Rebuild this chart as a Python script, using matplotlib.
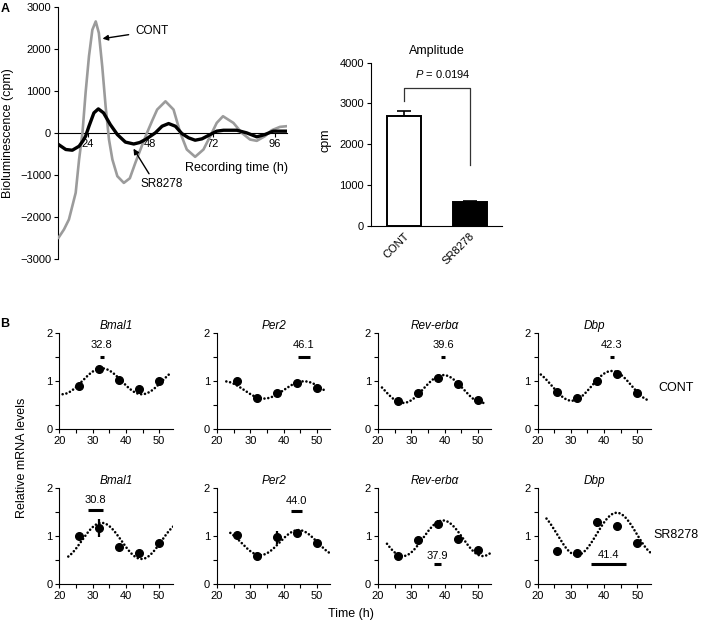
import matplotlib
matplotlib.use('Agg')
import matplotlib.pyplot as plt
import numpy as np
from matplotlib.ticker import MultipleLocator

plt.rcParams['font.family'] = ['Liberation Sans', 'DejaVu Sans']
plt.rcParams['mathtext.fontset'] = 'custom'
plt.rcParams['mathtext.rm'] = 'Liberation Sans'
plt.rcParams['mathtext.it'] = 'Liberation Sans:italic'

# ---------------- Panel A: bioluminescence traces ----------------
cont_time = [12.8, 14.9, 16.8, 18.1, 19.4, 20.7, 22.0, 23.2, 24.5, 25.8, 27.1, 28.3,
             29.6, 30.9, 32.2, 33.5, 35.4, 37.9, 40.2, 42.4, 45.0, 46.8, 48.8, 50.7,
             53.9, 57.0, 59.6, 62.1, 65.3, 68.5, 71.1, 73.6, 76.0, 80.0, 83.2, 86.4,
             89.0, 92.1, 94.7, 97.9, 100.5]
cont_lum = [-2494, -2297, -2060, -1743, -1425, -634, 0, 950, 1820, 2450, 2650, 2375,
            1580, 630, -160, -634, -1030, -1190, -1080, -700, -280, 0, 290, 553,
            750, 553, 0, -396, -570, -396, -80, 237, 395, 237, 0, -159,
            -190, -80, 62, 142, 158]

sr_time = [12.8, 15.6, 18.1, 20.7, 22.2, 23.2, 24.5, 26.4, 28.1, 30.1, 32.7, 35.4,
           38.5, 41.7, 44.0, 46.2, 50.0, 52.6, 55.1, 57.7, 60.2, 62.8, 65.3, 67.9,
           71.1, 73.6, 76.2, 81.3, 85.1, 89.0, 92.1, 95.3, 100.5]
sr_lum = [-278, -396, -413, -318, -190, -80, 158, 475, 570, 475, 197, -40,
          -220, -265, -230, -159, 0, 158, 221, 158, -17, -119, -175, -143,
          -40, 40, 62, 62, 0, -95, -40, 40, 40]

# ---------------- Panel A: amplitude bars ----------------
amp_groups = ['CONT', 'SR8278']
amp_values = [2680, 590]
amp_errors = [140, 20]
p_text = 'P = 0.0194'

# ---------------- Panel B: qPCR ----------------
genes = ['Bmal1', 'Per2', 'Rev-erbα', 'Dbp']
sample_times = [26, 32, 38, 44, 50]
cont_levels = {
    'Bmal1':    [0.90, 1.25, 1.03, 0.84, 1.01],
    'Per2':     [1.00, 0.66, 0.76, 0.97, 0.87],
    'Rev-erbα': [0.59, 0.75, 1.07, 0.94, 0.61],
    'Dbp':      [0.77, 0.65, 1.00, 1.15, 0.76],
}
cont_err = {
    'Bmal1':    [0.03, 0.03, 0.03, 0.03, 0.03],
    'Per2':     [0.03, 0.02, 0.03, 0.03, 0.03],
    'Rev-erbα': [0.02, 0.03, 0.03, 0.03, 0.02],
    'Dbp':      [0.03, 0.02, 0.03, 0.05, 0.03],
}
sr_levels = {
    'Bmal1':    [1.00, 1.17, 0.76, 0.64, 0.85],
    'Per2':     [1.02, 0.58, 0.97, 1.06, 0.85],
    'Rev-erbα': [0.58, 0.92, 1.25, 0.93, 0.71],
    'Dbp':      [0.69, 0.64, 1.28, 1.20, 0.86],
}
sr_err = {
    'Bmal1':    [0.03, 0.19, 0.03, 0.04, 0.03],
    'Per2':     [0.03, 0.02, 0.13, 0.03, 0.02],
    'Rev-erbα': [0.02, 0.03, 0.08, 0.03, 0.03],
    'Dbp':      [0.02, 0.02, 0.10, 0.05, 0.02],
}
# cosinor fits: mesor, amplitude, fitted peak time, period, fit start, fit end
cont_fit = {
    'Bmal1':    [1.00, 0.27, 32.8, 24, 21.0, 53.4],
    'Per2':     [0.82, 0.18, 46.1, 24, 22.8, 52.5],
    'Rev-erbα': [0.84, 0.29, 39.6, 24, 21.2, 52.0],
    'Dbp':      [0.905, 0.31, 42.3, 24, 21.0, 52.8],
}
sr_fit = {
    'Bmal1':    [0.895, 0.375, 32.7, 24, 22.7, 54.2],
    'Per2':     [0.86, 0.26, 44.5, 23, 24.0, 55.0],
    'Rev-erbα': [0.95, 0.37, 39.5, 24, 22.7, 54.0],
    'Dbp':      [1.04, 0.44, 43.8, 24, 22.7, 54.7],
}
# phase labels and their error
cont_phase = {'Bmal1': 32.8, 'Per2': 46.1, 'Rev-erbα': 39.6, 'Dbp': 42.3}
cont_phase_err = {'Bmal1': 0.6, 'Per2': 1.75, 'Rev-erbα': 0.6, 'Dbp': 0.6}
sr_phase = {'Bmal1': 30.8, 'Per2': 44.0, 'Rev-erbα': 37.9, 'Dbp': 41.4}
sr_phase_err = {'Bmal1': 2.3, 'Per2': 1.65, 'Rev-erbα': 1.15, 'Dbp': 5.2}

W, H = 709, 624
fig = plt.figure(figsize=(W / 100, H / 100), dpi=100)


def box(l, t, r, b):
    return [l / W, 1 - b / H, (r - l) / W, (b - t) / H]


LW = 0.8

# ---------------- Panel A left ----------------
ax1 = fig.add_axes(box(58, 6.7, 287, 259))
ax1.plot(cont_time, cont_lum, color='#9b9b9b', lw=1.9, solid_joinstyle='round', zorder=3)
ax1.plot(sr_time, sr_lum, color='black', lw=2.4, solid_joinstyle='round', zorder=4)
ax1.set_xlim(12.6, 100.6)
ax1.set_ylim(-3000, 3000)
for s in ['top', 'right']:
    ax1.spines[s].set_visible(False)
ax1.spines['bottom'].set_position(('data', 0))
ax1.spines['bottom'].set_linewidth(LW)
ax1.spines['left'].set_linewidth(LW)
ax1.set_xticks([24, 48, 72, 96])
ax1.set_yticks(range(-3000, 3001, 1000))
ax1.tick_params(axis='x', direction='out', length=3, width=LW, pad=1.5, labelsize=8)
ax1.tick_params(axis='y', direction='out', length=3, width=LW, pad=2, labelsize=8)
fig.text(8.5 / W, 1 - 133 / H, 'Bioluminescence (cpm)', rotation=90, ha='center',
         va='center', fontsize=9)
ax1.text(100.9, -830, 'Recording time (h)', ha='right', va='center', fontsize=9)
ax1.annotate('CONT', xy=(29.7, 2240), xytext=(42.4, 2420), ha='left', va='center',
             fontsize=8.5,
             arrowprops=dict(arrowstyle='-|>', color='black', lw=1, shrinkA=3, shrinkB=0,
                             mutation_scale=8))
ax1.annotate('SR8278', xy=(41.6, -375), xytext=(52.6, -1210), ha='center', va='center',
             fontsize=8.5,
             arrowprops=dict(arrowstyle='-|>', color='black', lw=1, shrinkA=1, shrinkB=0,
                             mutation_scale=8, relpos=(0.25, 1.0)))

# ---------------- Panel A right ----------------
ax2 = fig.add_axes(box(371, 62.7, 502, 225.7))
xpos = np.arange(len(amp_groups))
ax2.bar(xpos, amp_values, width=0.52, color=['white', 'black'], edgecolor='black',
        linewidth=1.4, zorder=3)
ax2.errorbar(xpos, amp_values, yerr=[[0, 0], amp_errors], fmt='none', ecolor='black',
             elinewidth=1.2, capsize=5, capthick=1.2, zorder=2)
ax2.set_xlim(-0.502, 1.49)
ax2.set_ylim(0, 4000)
ax2.set_yticks(range(0, 4001, 1000))
ax2.set_xticks(xpos)
ax2.set_xticklabels(amp_groups, rotation=45, ha='right', va='top', rotation_mode='anchor')
for s in ['top', 'right']:
    ax2.spines[s].set_visible(False)
ax2.spines['bottom'].set_linewidth(LW)
ax2.spines['left'].set_linewidth(LW)
ax2.tick_params(axis='y', direction='out', length=3, width=LW, pad=2, labelsize=8)
ax2.tick_params(axis='x', length=0, pad=4, labelsize=8)
fig.text(326 / W, 1 - 140 / H, 'cpm', rotation=90, ha='center', va='center', fontsize=9)
ax2.set_title('Amplitude', fontsize=9, pad=6)
ax2.plot([0, 0, 1.005, 1.005], [3050, 3370, 3370, 1490], color='#333333', lw=0.9)
ax2.text(0.59, 3720, r'$P$ = 0.0194', ha='center', va='center', fontsize=8)

# ---------------- Panel B ----------------
lefts = [59.3, 217, 378, 537.5]
rows = [(333.3, 429.3), (487.7, 584)]
row_data = [(cont_levels, cont_err, cont_fit, cont_phase, cont_phase_err),
            (sr_levels, sr_err, sr_fit, sr_phase, sr_phase_err)]
label_pos = [
    {'Bmal1': (1.76, 1.5), 'Per2': (1.76, 1.5), 'Rev-erbα': (1.76, 1.5), 'Dbp': (1.76, 1.5)},
    {'Bmal1': (1.74, 1.54), 'Per2': (1.73, 1.52), 'Rev-erbα': (0.58, 0.41), 'Dbp': (0.6, 0.42)},
]
for r, (top, bot) in enumerate(rows):
    levels, errs, fits, phases, perrs = row_data[r]
    for c, g in enumerate(genes):
        ax = fig.add_axes(box(lefts[c], top, lefts[c] + 113.2, bot))
        mes, amp, pk, per, t0, t1 = fits[g]
        tt = np.linspace(t0, t1, 200)
        ax.plot(tt, mes + amp * np.cos(2 * np.pi * (tt - pk) / per), color='black',
                lw=1.9, ls=(0, (0.01, 1.45)), dash_capstyle='round', zorder=2)
        ax.errorbar(sample_times, levels[g], yerr=errs[g], fmt='o', color='black',
                    ms=5.5, elinewidth=1.6, capsize=0, zorder=3)
        ly, by = label_pos[r][g]
        p, e = phases[g], perrs[g]
        ax.plot([p - e, p + e], [by, by], color='black', lw=2.2, solid_capstyle='butt')
        ax.text(p, ly, f'{p:.1f}', ha='center', va='center', fontsize=8)
        ax.set_xlim(20, 54)
        ax.set_ylim(0, 2)
        ax.set_xticks([20, 30, 40, 50])
        ax.set_yticks([0, 1, 2])
        ax.xaxis.set_minor_locator(MultipleLocator(5))
        ax.yaxis.set_minor_locator(MultipleLocator(0.5))
        for s in ['top', 'right']:
            ax.spines[s].set_visible(False)
        ax.spines['bottom'].set_linewidth(LW)
        ax.spines['left'].set_linewidth(LW)
        ax.tick_params(which='both', direction='out', length=3, width=LW, labelsize=8, pad=2)
        ax.tick_params(which='minor', length=3)
        ax.set_title(g, fontsize=8.5, style='italic', pad=3)

fig.text(676 / W, 1 - 388 / H, 'CONT', ha='center', va='center', fontsize=9)
fig.text(676 / W, 1 - 535 / H, 'SR8278', ha='center', va='center', fontsize=9)
fig.text(22 / W, 1 - 458 / H, 'Relative mRNA levels', rotation=90, ha='center',
         va='center', fontsize=9)
fig.text(351 / W, 1 - 614 / H, 'Time (h)', ha='center', va='center', fontsize=9)
fig.text(5 / W, 1 - 9 / H, 'A', ha='center', va='center', fontsize=9, weight='bold')
fig.text(5 / W, 1 - 324 / H, 'B', ha='center', va='center', fontsize=9, weight='bold')

fig.savefig('out.png', dpi=100)
